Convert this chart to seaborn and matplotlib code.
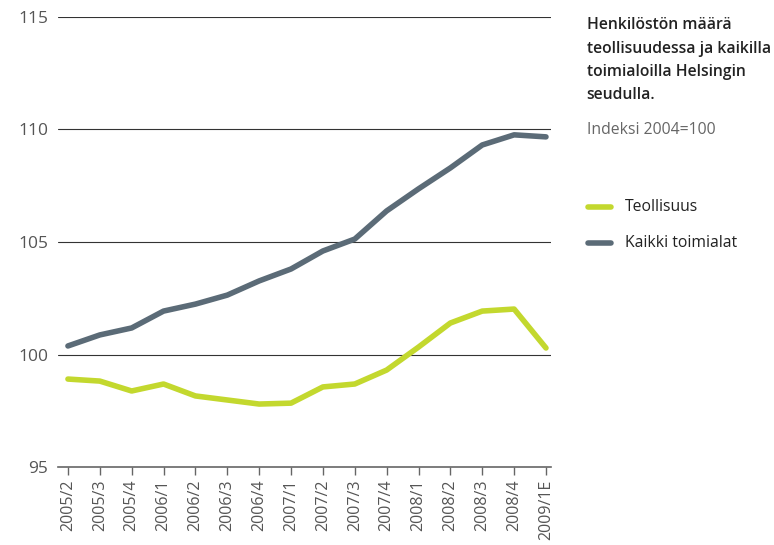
import matplotlib
matplotlib.use("Agg")
import matplotlib.pyplot as plt
import pandas as pd
import seaborn as sns

# Quarters on the x axis
quarters = ["2005/2", "2005/3", "2005/4", "2006/1", "2006/2", "2006/3", "2006/4",
            "2007/1", "2007/2", "2007/3", "2007/4", "2008/1", "2008/2", "2008/3",
            "2008/4", "2009/1E"]

# Index values (2004=100)
teollisuus = [98.91, 98.82, 98.38, 98.69, 98.16, 97.98, 97.80, 97.84,
              98.56, 98.69, 99.31, 100.33, 101.40, 101.93, 102.02, 100.29]
kaikki = [100.38, 100.87, 101.18, 101.93, 102.24, 102.64, 103.27, 103.80,
          104.60, 105.13, 106.38, 107.36, 108.29, 109.31, 109.76, 109.67]

series_names = ["Teollisuus", "Kaikki toimialat"]
series_colors = ["#c3d82e", "#5b6b77"]

df = pd.DataFrame({
    "pos": list(range(len(quarters))) * 2,
    "value": teollisuus + kaikki,
    "series": [series_names[0]] * len(quarters) + [series_names[1]] * len(quarters),
})

sns.set_theme(style="white")
plt.rcParams["font.family"] = ["Open Sans", "DejaVu Sans"]

fig = plt.figure(figsize=(7.74, 5.45), dpi=100)
ax = fig.add_axes([0.075, 0.143, 0.637, 0.826])

sns.lineplot(data=df, x="pos", y="value", hue="series", hue_order=series_names,
             palette=series_colors, linewidth=4, ax=ax, legend=False,
             solid_capstyle="round")

ax.set_ylim(95, 115)
ax.set_xlim(-0.31, 15.16)
ax.set_yticks([95, 100, 105, 110, 115])
ax.set_xticks(range(len(quarters)))
ax.set_xticklabels(quarters, rotation=90, fontsize=11.5, color="#555555")
ax.tick_params(axis="y", labelsize=12.5, labelcolor="#555555", length=0, pad=7)
ax.tick_params(axis="x", length=6, width=1, color="#666666", bottom=True, pad=3)
ax.set_xlabel("")
ax.set_ylabel("")

for y in [100, 105, 110, 115]:
    ax.axhline(y, color="#333333", linewidth=0.8, zorder=0)

for s in ["top", "right", "left"]:
    ax.spines[s].set_visible(False)
ax.spines["bottom"].set_color("#666666")
ax.spines["bottom"].set_linewidth(1.2)

# Title block on the right
fig.text(0.758, 0.968, "Henkilöstön määrä\nteollisuudessa ja kaikilla\ntoimialoilla Helsingin\nseudulla.",
         fontsize=11.3, fontweight="semibold", color="#222222", va="top", ha="left",
         linespacing=1.6)
fig.text(0.758, 0.777, "Indeksi 2004=100", fontsize=11.3, color="#666666",
         va="top", ha="left")

# Legend
for i, (name, col) in enumerate(zip(series_names, series_colors)):
    yy = 1 - (207 + 36 * i) / 545
    fig.add_artist(plt.Line2D([0.76, 0.79], [yy, yy], color=col, linewidth=4,
                              transform=fig.transFigure))
    fig.text(0.807, yy, name, fontsize=11.3, color="#222222", va="center", ha="left")

fig.savefig("out.png", dpi=100)
